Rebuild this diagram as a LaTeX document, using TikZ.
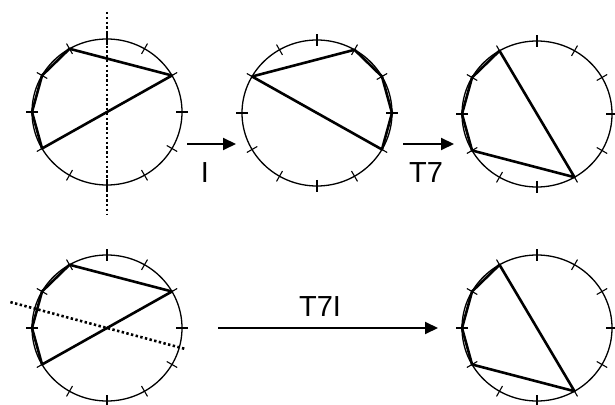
\documentclass[tikz,border=0pt]{standalone}
\usepackage{fontspec}
\setmainfont{Liberation Sans}
\usetikzlibrary{arrows.meta,calc}
\tikzset{
  circ/.style={line width=1.3pt, black},
  tickmark/.style={line width=1.1pt, black},
  poly/.style={line width=2.6pt, black, line join=round},
  axisline/.style={line width=2.6pt, black, dash pattern=on 2.4pt off 2.4pt},
  maparrow/.style={line width=2pt, -{Triangle[length=13pt,width=12pt]}},
  lbl/.style={font=\fontsize{29}{30}\selectfont, inner sep=0pt, anchor=base}
}
\newcommand{\clockface}[3]{%
  \begin{scope}[shift={(#2,#3)}]
    \coordinate (#1) at (0,0);
    \draw[circ] (0,0) ellipse [x radius=75, y radius=73];
    \foreach \k in {0,...,11} {
      \coordinate (#1-\k) at ({75*cos(90-30*\k)},{73*sin(90-30*\k)});
      \draw[tickmark] ({69*cos(90-30*\k)},{67*sin(90-30*\k)}) -- ({81*cos(90-30*\k)},{79*sin(90-30*\k)});
    }
  \end{scope}}
\begin{document}
\begin{tikzpicture}[x=1pt,y=1pt]
  \useasboundingbox (0,0) rectangle (615,404);
  % clocks
  \clockface{A}{107}{292}
  \clockface{B}{317}{291}
  \clockface{C}{537}{290}
  \clockface{D}{107}{76}
  \clockface{E}{537}{76}
  % polygons
  \draw[poly] (A-11) -- (A-10) -- (A-9) -- (A-8) -- (A-2) -- cycle;
  \draw[poly] (B-10) -- (B-1) -- (B-2) -- (B-3) -- (B-4) -- cycle;
  \draw[poly] (C-11) -- (C-10) -- (C-9) -- (C-8) -- (C-5) -- cycle;
  \draw[poly] (D-11) -- (D-10) -- (D-9) -- (D-8) -- (D-2) -- cycle;
  \draw[poly] (E-11) -- (E-10) -- (E-9) -- (E-8) -- (E-5) -- cycle;
  % axes
  \coordinate (Atop) at (107,392);
  \coordinate (Abot) at (107,190);
  \draw[axisline] (Atop) -- (Abot);
  \coordinate (Dl) at ($(D)+(165:100)$);
  \coordinate (Dr) at ($(D)+(-15:82)$);
  \draw[axisline] (Dl) -- (Dr);
  % arrows
  \coordinate (a1s) at (187,260);
  \coordinate (a1e) at (236,260);
  \draw[maparrow] (a1s) -- (a1e);
  \node[lbl] (lI) at (205,221) {I};
  \coordinate (a2s) at (403,260);
  \coordinate (a2e) at (454,260);
  \draw[maparrow] (a2s) -- (a2e);
  \node[lbl] (lT7) at (426,221) {T7};
  \coordinate (a3s) at (218,76);
  \coordinate (a3e) at (438,76);
  \draw[maparrow] (a3s) -- (a3e);
  \node[lbl] (lT7I) at (320,87) {T7I};
\end{tikzpicture}
\end{document}
